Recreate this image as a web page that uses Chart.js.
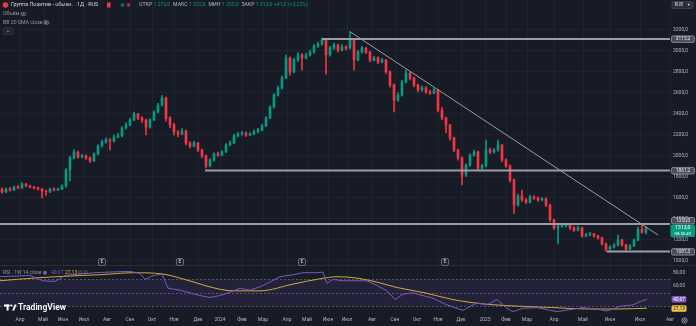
<!DOCTYPE html>
<html lang="ru">
<head>
<meta charset="utf-8">
<title>Группа Позитив - обыкн. · 1Д</title>
<script src="https://cdn.jsdelivr.net/npm/chart.js@4.4.1/dist/chart.umd.min.js"></script>
<style>
  html, body { margin: 0; padding: 0; background: #171b26; }
  #wrap { position: relative; width: 696px; height: 326px; }
</style>
</head>
<body>
<div id="wrap"><canvas id="chart"></canvas></div>
<script>
///////////////////////////////
// Data (daily bars grouped by 4)
///////////////////////////////

const barsPerCandle = 4;
const firstBar = 2;

const opens = [
  1680,1656,1684,1675,1703,1694,1732,1713,1703,1694,
  1684,1665,1656,1684,1675,1684,1713,1865,1980,2037,
  1989,1999,1980,1951,2018,2094,2132,2151,2142,2180,
  2190,2266,2294,2342,2399,2361,2342,2275,2342,2418,
  2485,2552,2361,2294,2228,2209,2237,2123,2094,2123,
  2056,1999,1904,1961,2018,2008,2037,2104,2123,2190,
  2209,2218,2199,2209,2228,2247,2285,2361,2466,2580,
  2647,2742,2933,2800,2914,2962,2933,2962,2990,3047,
  3066,3105,2962,3028,3057,3009,3038,3028,3105,2914,
  2990,3028,2990,2914,2933,2895,2914,2800,2676,2533,
  2580,2704,2790,2742,2676,2628,2647,2609,2599,2628,
  2437,2361,2294,2170,2056,1980,1818,1913,2008,2037,
  1884,1904,2056,2037,2056,2104,1961,1904,1770,1532,
  1618,1579,1560,1608,1598,1579,1589,1532,1389,1313,
  1325,1332,1341,1313,1293,1313,1236,1246,1255,1236,
  1217,1160,1112,1131,1150,1198,1150,1112,1141,1198,
  1300,1272
];
const highs = [
  1695,1692,1700,1712,1718,1745,1738,1722,1710,1702,
  1690,1675,1692,1696,1694,1725,1880,1995,2060,2045,
  2018,2010,1990,2030,2105,2150,2172,2165,2195,2215,
  2280,2315,2360,2418,2405,2375,2350,2355,2430,2500,
  2575,2560,2375,2310,2240,2260,2245,2135,2140,2130,
  2065,2010,1975,2030,2035,2050,2118,2140,2205,2225,
  2235,2230,2222,2245,2262,2300,2375,2480,2595,2665,
  2760,2962,2945,2930,2985,2975,2980,3005,3060,3085,
  3124,3110,3045,3075,3065,3060,3050,3184,3112,3005,
  3045,3035,2998,2950,2945,2930,2920,2810,2685,2600,
  2720,2820,2800,2750,2685,2665,2660,2625,2645,2635,
  2460,2370,2300,2180,2065,1990,1925,2020,2055,2045,
  1920,2151,2075,2070,2151,2110,1975,1915,1780,1635,
  1675,1595,1625,1620,1610,1605,1600,1540,1395,1350,
  1355,1360,1350,1325,1330,1320,1262,1270,1262,1245,
  1225,1168,1145,1165,1246,1205,1158,1155,1210,1320,
  1352,1322.6
];
const lows = [
  1645,1648,1664,1668,1686,1690,1705,1695,1684,1672,
  1600,1622,1650,1665,1668,1678,1700,1760,1970,1978,
  1980,1965,1935,1945,2010,2085,2120,2056,2130,2170,
  2180,2255,2285,2335,2345,2320,2200,2265,2335,2410,
  2475,2330,2270,2200,2180,2200,2105,2075,2085,2040,
  1980,1884,1895,1950,1995,2000,2030,2095,2115,2180,
  2195,2185,2190,2200,2218,2238,2278,2355,2455,2570,
  2635,2735,2770,2790,2900,2820,2925,2950,2980,3035,
  3055,2780,2950,3015,2990,3000,3010,3020,2819,2905,
  2980,2975,2895,2905,2880,2885,2785,2655,2420,2520,
  2570,2695,2725,2660,2610,2615,2595,2585,2590,2420,
  2345,2220,2150,2040,1960,1723,1805,1900,1995,1865,
  1870,1895,2020,2025,2045,1945,1890,1750,1450,1520,
  1565,1545,1550,1585,1565,1570,1515,1375,1300,1160,
  1318,1322,1300,1280,1285,1225,1228,1238,1225,1205,
  1148,1087,1100,1120,1142,1138,1095,1105,1135,1190,
  1262,1255
];
const closes = [
  1656,1684,1675,1703,1694,1732,1713,1703,1694,1684,
  1665,1656,1684,1675,1684,1713,1865,1980,2037,1989,
  1999,1980,1951,2018,2094,2132,2151,2142,2180,2190,
  2266,2294,2342,2399,2361,2342,2275,2342,2418,2485,
  2552,2361,2294,2228,2209,2237,2123,2094,2123,2056,
  1999,1904,1961,2018,2008,2037,2104,2123,2190,2209,
  2218,2199,2209,2228,2247,2285,2361,2466,2580,2647,
  2742,2933,2800,2914,2962,2933,2962,2990,3047,3066,
  3105,2962,3028,3057,3009,3038,3028,3105,2914,2990,
  3028,2990,2914,2933,2895,2914,2800,2676,2533,2580,
  2704,2790,2742,2676,2628,2647,2609,2599,2628,2437,
  2361,2294,2170,2056,1980,1818,1913,2008,2037,1884,
  1904,2056,2037,2056,2104,1961,1904,1770,1532,1618,
  1579,1560,1608,1598,1579,1589,1532,1389,1313,1332,
  1332,1341,1313,1293,1313,1236,1246,1255,1236,1217,
  1160,1112,1131,1150,1198,1150,1112,1141,1198,1300,
  1272,1313
];

const monthBars = [20, 43, 63, 84, 107, 130, 152, 174, 198, 220, 242, 263, 287, 307, 328,
  347, 372, 395, 417, 438, 461, 485, 506, 527, 554, 583, 610, 640, 670];
const monthLabels = ["Апр", "Май", "Июн", "Июл", "Авг", "Сен", "Окт", "Ноя", "Дек", "2024",
  "Фев", "Мар", "Апр", "Май", "Июн", "Июл", "Авг", "Сен", "Окт", "Ноя", "Дек", "2025",
  "Фев", "Мар", "Апр", "Май", "Июн", "Июл", "Авг"];

const priceTicks = [1000, 1200, 1400, 1600, 1800, 2000, 2200, 2400, 2600, 2800, 3000, 3200];

// horizontal levels drawn on the chart
const levelPrices = [3115.2, 1861.2, 1350.0, 1087.3];
const levelStartBars = [322, 205, 0, 607];

// falling trend line
const trendBars = [350, 658];
const trendPrices = [3184, 1246];

// RSI 1W 14 and its moving average
const rsiBars = [0, 15, 30, 43, 55, 65, 80, 95, 110, 130, 140, 145, 152, 162, 168, 180, 190, 200, 210, 220,
  230, 240, 250, 260, 270, 280, 293, 303, 317, 323, 327, 333, 343, 357, 367, 377, 387, 395, 403, 413,
  425, 433, 447, 455, 463, 477, 487, 497, 507, 513, 523, 537, 547, 557, 570, 583, 600, 607, 620, 633,
  640, 647];
const rsiValues = [74, 75, 76, 68, 67, 76, 78, 80, 81, 82, 79, 70, 75, 78, 57, 54, 50, 46, 43, 46,
  51, 57, 54, 59, 66, 74, 77, 80, 80, 81, 64, 70, 68, 68, 68, 61, 53, 40, 48, 50,
  45, 42, 32, 28, 24, 35, 32, 40, 27, 22, 27, 28, 25, 22, 25, 28, 25, 23, 30, 32,
  37, 40.67];
const rsiMaBars = [0, 33, 83, 100, 133, 163, 187, 215, 233, 260, 293, 320, 337, 357, 377, 397, 425, 453,
  487, 520, 553, 587, 620, 647];
const rsiMaValues = [68, 72, 76, 77, 80, 78, 69, 57, 53, 53, 63, 71, 74, 72, 66, 58, 50, 40,
  33, 30, 28, 26, 26, 27.13];

const eventBars = [102, 180, 302, 445];

///////////////////////////////
// Look
///////////////////////////////

const bgColor = "#171b26";
const gridColor = "#1f2330";
const upColor = "#089981";
const downColor = "#f23645";
const axisText = "#b2b5be";
const levelColor = "#9a9da6";
const rsiColor = "#7e57c2";
const rsiMaColor = "#cfa93a";
const fontFamily = "Roboto, 'DejaVu Sans', sans-serif";

const xMax = 670;
const priceMin = 502, priceMax = 3486;
const rsiMin = 20, rsiMax = 486.2, rsiTop = 91;

Chart.defaults.font.family = fontFamily;

const candleX = closes.map((c, i) => firstBar + i * barsPerCandle);
const candleColors = closes.map((c, i) => (c >= opens[i] ? upColor : downColor));

function fmt(v, d) {
  return v.toFixed(d).replace(".", ",");
}

function box(ctx, x, y, w, h, fill, stroke) {
  ctx.beginPath();
  ctx.roundRect(x, y, w, h, 1.5);
  ctx.fillStyle = fill;
  ctx.fill();
  if (stroke) {
    ctx.strokeStyle = stroke;
    ctx.lineWidth = 0.8;
    ctx.stroke();
  }
}

function eye(ctx, x, y) {
  ctx.strokeStyle = "#9598a1";
  ctx.lineWidth = 0.7;
  ctx.beginPath();
  ctx.ellipse(x, y, 2.6, 1.6, 0, 0, Math.PI * 2);
  ctx.stroke();
  ctx.beginPath();
  ctx.arc(x, y, 0.8, 0, Math.PI * 2);
  ctx.fillStyle = "#9598a1";
  ctx.fill();
}

///////////////////////////////
// Pane decoration plugin
///////////////////////////////

const paneDecor = {
  id: "paneDecor",
  beforeDraw(chart) {
    const { ctx, width, height, chartArea: a, scales } = chart;
    const r = scales.yr;
    ctx.save();
    ctx.fillStyle = bgColor;
    ctx.fillRect(0, 0, width, height);
    const y70 = r.getPixelForValue(70);
    const y30 = r.getPixelForValue(30);
    ctx.fillStyle = "rgba(126, 87, 194, 0.13)";
    ctx.fillRect(a.left, y70, a.right - a.left, y30 - y70);
    ctx.restore();
  },
  beforeDatasetsDraw(chart) {
    const { ctx, width, chartArea: a, scales } = chart;
    const r = scales.yr;
    ctx.save();
    ctx.strokeStyle = "rgba(120, 123, 134, 0.6)";
    ctx.lineWidth = 1;
    ctx.setLineDash([2, 2]);
    [70, 50, 30].forEach(v => {
      const y = Math.round(r.getPixelForValue(v)) + 0.5;
      ctx.beginPath();
      ctx.moveTo(a.left, y);
      ctx.lineTo(a.right, y);
      ctx.stroke();
    });
    ctx.setLineDash([]);
    const yTop = Math.round(r.getPixelForValue(rsiTop)) + 0.5;
    ctx.strokeStyle = "#2a2e39";
    ctx.beginPath();
    ctx.moveTo(0, yTop);
    ctx.lineTo(width, yTop);
    ctx.stroke();
    ctx.restore();
  },
  afterDraw(chart) {
    const { ctx, chartArea: a, scales } = chart;
    const p = scales.y, r = scales.yr, x = scales.x;
    ctx.save();
    ctx.textBaseline = "middle";

    // event markers at the bottom of the price pane
    ctx.font = "5px " + fontFamily;
    ctx.textAlign = "center";
    eventBars.forEach(b => {
      const px = x.getPixelForValue(b);
      box(ctx, px - 3.5, 258.5, 7, 7, "#1e222d", "#787b86");
      ctx.fillStyle = "#d1d4dc";
      ctx.fillText("E", px, 262.2);
    });

    // price labels on the right axis
    const last = closes.length - 1;
    const yLast = p.getPixelForValue(closes[last]);
    const greenTop = yLast - 3.5;
    ctx.textAlign = "center";
    levelPrices.forEach(v => {
      let yc = p.getPixelForValue(v);
      if (yc + 3.5 > greenTop && yc - 3.5 < greenTop + 12.5) yc = greenTop - 4;
      box(ctx, a.right + 1.5, yc - 3, 23, 6.5, "#4a4e59", "#9598a1");
      ctx.fillStyle = "#e6e8ee";
      ctx.font = "4.8px " + fontFamily;
      ctx.fillText(fmt(v, 1), a.right + 13, yc + 0.3);
    });
    box(ctx, a.right + 0.5, greenTop, 24.5, 12.5, upColor);
    ctx.fillStyle = "#ffffff";
    ctx.font = "5px " + fontFamily;
    ctx.fillText(fmt(closes[last], 1), a.right + 12.8, yLast);
    ctx.font = "4.3px " + fontFamily;
    ctx.fillText("08:55:49", a.right + 12.8, yLast + 5.5);

    // RSI axis labels
    ctx.textAlign = "left";
    ctx.font = "5px " + fontFamily;
    ctx.fillStyle = axisText;
    [80, 60].forEach(v => ctx.fillText(fmt(v, 2), a.right + 3, r.getPixelForValue(v)));
    const yRsi = r.getPixelForValue(rsiValues[rsiValues.length - 1]);
    const yMa = r.getPixelForValue(rsiMaValues[rsiMaValues.length - 1]);
    box(ctx, a.right + 1.5, yRsi - 3, 15, 6.5, rsiColor);
    box(ctx, a.right + 1.5, yMa - 3, 15, 6.5, "#f2c94c");
    ctx.textAlign = "center";
    ctx.fillStyle = "#ffffff";
    ctx.fillText(fmt(rsiValues[rsiValues.length - 1], 2), a.right + 9, yRsi + 0.3);
    ctx.fillStyle = "#131722";
    ctx.fillText(fmt(rsiMaValues[rsiMaValues.length - 1], 2), a.right + 9, yMa + 0.3);

    // RSI legend
    ctx.textAlign = "left";
    ctx.font = "5px " + fontFamily;
    ctx.fillStyle = "#9598a1";
    ctx.fillText("RSI · 1W 14 close", 3, 272.7);
    ctx.beginPath();
    ctx.arc(45, 272.7, 2, 0, Math.PI * 2);
    ctx.fillStyle = rsiColor;
    ctx.fill();
    ctx.fillStyle = rsiColor;
    ctx.fillText("40,67", 51, 272.7);
    ctx.fillStyle = "#e0b83a";
    ctx.fillText("27,13", 65, 272.7);
    ctx.fillStyle = "#9598a1";
    ctx.fillText("∅ ∅", 78, 272.7);

    // header legend
    ctx.beginPath();
    ctx.arc(5.5, 5, 2.8, 0, Math.PI * 2);
    ctx.fillStyle = downColor;
    ctx.fill();
    ctx.font = "5.4px " + fontFamily;
    ctx.fillStyle = "#d1d4dc";
    ctx.fillText("Группа Позитив - обыкн. · 1Д · RUS", 11, 5);
    ctx.fillStyle = downColor;
    ctx.fillRect(107, 2.5, 3.5, 5);
    ctx.beginPath();
    ctx.arc(122.5, 5, 2.2, 0, Math.PI * 2);
    ctx.fillStyle = "rgba(8, 153, 129, 0.35)";
    ctx.fill();
    ctx.beginPath();
    ctx.arc(122.5, 5, 1.1, 0, Math.PI * 2);
    ctx.fillStyle = upColor;
    ctx.fill();
    ctx.beginPath();
    ctx.arc(128.5, 5, 2.2, 0, Math.PI * 2);
    ctx.fillStyle = "rgba(242, 54, 69, 0.35)";
    ctx.fill();
    ctx.beginPath();
    ctx.arc(128.5, 5, 1.1, 0, Math.PI * 2);
    ctx.fillStyle = downColor;
    ctx.fill();

    const ohlc = [
      ["ОТКР", "#b2b5be"], ["1 272,0", upColor],
      ["МАКС", "#b2b5be"], ["1 322,6", upColor],
      ["МИН", "#b2b5be"], ["1 255,0", upColor],
      ["ЗАКР", "#b2b5be"], ["1 313,0 +41,0 (+3,22%)", upColor]
    ];
    let hx = 139;
    ctx.font = "5.2px " + fontFamily;
    ohlc.forEach(([t, c], k) => {
      ctx.fillStyle = c;
      ctx.fillText(t, hx, 5);
      hx += ctx.measureText(t).width + (k % 2 === 0 ? 1.2 : 2.8);
    });

    ctx.font = "5.2px " + fontFamily;
    ctx.fillStyle = "#9598a1";
    ctx.fillText("Объём", 3, 14);
    eye(ctx, 23.5, 14);
    ctx.fillText("BB 20 SMA close 2", 3, 22.7);
    eye(ctx, 46.5, 22.7);
    box(ctx, 3, 28, 10, 6.5, "#1e222d", "#363a45");
    ctx.strokeStyle = "#b2b5be";
    ctx.lineWidth = 0.7;
    ctx.beginPath();
    ctx.moveTo(6.3, 32.2);
    ctx.lineTo(8, 30.5);
    ctx.lineTo(9.7, 32.2);
    ctx.stroke();

    // currency box, top right
    box(ctx, 672, 1.5, 21, 7, "#2a2e39", "#434651");
    ctx.fillStyle = "#d1d4dc";
    ctx.font = "4.6px " + fontFamily;
    ctx.fillText("RUB", 674.5, 5.2);
    ctx.fillText("▾", 687.5, 5.2);

    // settings gear, bottom right
    ctx.strokeStyle = "#b2b5be";
    ctx.lineWidth = 0.8;
    ctx.beginPath();
    ctx.arc(684.5, 320.5, 2.6, 0, Math.PI * 2);
    ctx.stroke();
    ctx.beginPath();
    ctx.arc(684.5, 320.5, 0.9, 0, Math.PI * 2);
    ctx.stroke();

    // TradingView logo
    ctx.fillStyle = "#ffffff";
    ctx.fillRect(4, 304.5, 5.5, 2);
    ctx.fillRect(6.6, 304.5, 2, 6);
    ctx.beginPath();
    ctx.arc(11.3, 305.5, 1.1, 0, Math.PI * 2);
    ctx.fill();
    ctx.beginPath();
    ctx.moveTo(12.2, 310.5);
    ctx.lineTo(14.6, 304.5);
    ctx.lineTo(16.6, 304.5);
    ctx.lineTo(14.2, 310.5);
    ctx.closePath();
    ctx.fill();
    ctx.font = "600 8.6px " + fontFamily;
    ctx.fillText("TradingView", 18, 308);
    ctx.restore();
  }
};

///////////////////////////////
// Chart
///////////////////////////////

const datasets = [
  {
    type: "bar",
    label: "body",
    data: closes.map((c, i) => ({ x: candleX[i], y: [opens[i], c] })),
    backgroundColor: candleColors,
    barThickness: 2,
    minBarLength: 1,
    grouped: false,
    order: 1,
    yAxisID: "y"
  },
  {
    type: "bar",
    label: "wick",
    data: closes.map((c, i) => ({ x: candleX[i], y: [lows[i], highs[i]] })),
    backgroundColor: candleColors,
    barThickness: 1,
    grouped: false,
    order: 2,
    yAxisID: "y"
  },
  ...levelPrices.map((v, k) => ({
    type: "line",
    label: "level " + fmt(v, 1),
    data: [{ x: levelStartBars[k], y: v }, { x: xMax, y: v }],
    borderColor: levelColor,
    borderWidth: 2,
    pointRadius: 0,
    order: 0,
    yAxisID: "y"
  })),
  {
    type: "line",
    label: "trend",
    data: trendBars.map((b, k) => ({ x: b, y: trendPrices[k] })),
    borderColor: levelColor,
    borderWidth: 1,
    pointRadius: 0,
    order: 0,
    yAxisID: "y"
  },
  {
    type: "line",
    label: "RSI",
    data: rsiBars.map((b, k) => ({ x: b, y: rsiValues[k] })),
    borderColor: rsiColor,
    borderWidth: 1,
    pointRadius: 0,
    order: 0,
    yAxisID: "yr"
  },
  {
    type: "line",
    label: "RSI MA",
    data: rsiMaBars.map((b, k) => ({ x: b, y: rsiMaValues[k] })),
    borderColor: rsiMaColor,
    borderWidth: 1,
    pointRadius: 0,
    cubicInterpolationMode: "monotone",
    order: 0,
    yAxisID: "yr"
  }
];

new Chart(document.getElementById("chart"), {
  type: "bar",
  data: { datasets },
  plugins: [paneDecor],
  options: {
    responsive: true,
    maintainAspectRatio: false,
    animation: false,
    events: [],
    layout: { padding: 0 },
    plugins: { legend: { display: false }, tooltip: { enabled: false } },
    scales: {
      x: {
        type: "linear",
        min: 0,
        max: xMax,
        offset: false,
        grid: { color: gridColor, drawTicks: false, offset: false },
        border: { display: false },
        ticks: {
          color: axisText,
          font: { size: 5 },
          padding: 4,
          maxRotation: 0,
          autoSkip: false,
          callback: (v, i) => monthLabels[i]
        },
        afterBuildTicks: s => { s.ticks = monthBars.map(v => ({ value: v })); },
        afterFit: s => { s.height = 13; s.paddingLeft = 0; s.paddingRight = 0; }
      },
      y: {
        type: "linear",
        position: "right",
        min: priceMin,
        max: priceMax,
        grid: { color: gridColor, drawTicks: false },
        border: { display: false },
        ticks: {
          color: axisText,
          font: { size: 5 },
          padding: 3,
          callback: v => fmt(v, 1)
        },
        afterBuildTicks: s => { s.ticks = priceTicks.map(v => ({ value: v })); },
        afterFit: s => { s.width = 26; s.paddingTop = 0; s.paddingBottom = 0; }
      },
      yr: {
        type: "linear",
        display: false,
        min: rsiMin,
        max: rsiMax
      }
    }
  }
});
</script>
</body>
</html>
